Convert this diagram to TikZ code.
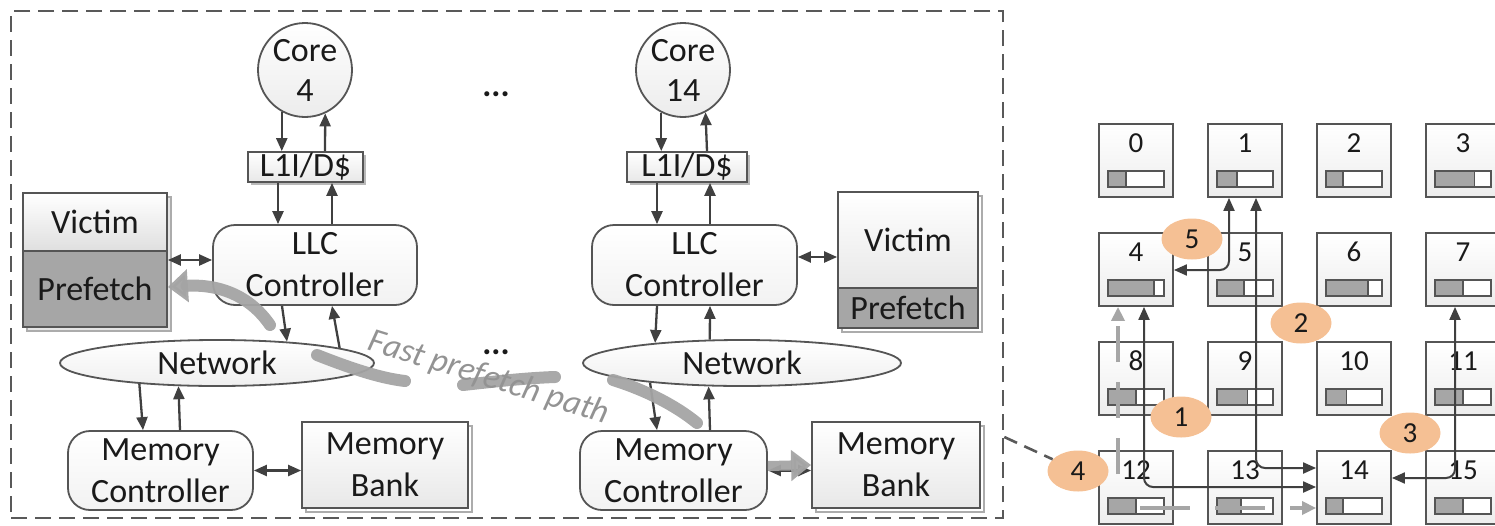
\documentclass[tikz,border=0pt]{standalone}
\usepackage{fontspec}
\setmainfont{Carlito}
\usetikzlibrary{arrows.meta,shapes.geometric}
\definecolor{ln}{HTML}{404040}
\definecolor{bd}{HTML}{555555}
\definecolor{pf}{HTML}{A6A6A6}
\definecolor{fastc}{HTML}{A4A4A4}
\definecolor{tagc}{RGB}{245,192,148}
\definecolor{txt}{HTML}{1A1A1A}

\begin{document}
\begin{tikzpicture}[x=1pt,y=-1pt,
  every node/.style={inner sep=0pt, font=\fontsize{34}{42}\selectfont, text=txt},
  box/.style={draw=bd, line width=1.8pt, top color=white, bottom color=gray!18, align=center},
  rbox/.style={box, rounded corners=22pt, top color=white, bottom color=gray!10},
  core/.style={circle, draw=bd, line width=1.8pt, top color=white, bottom color=gray!15,
    minimum size=94pt, align=center, font=\fontsize{34}{40}\selectfont},
  net/.style={ellipse, draw=bd, line width=1.8pt, top color=white, bottom color=gray!12},
  back/.style={draw=gray!65, line width=1.4pt, fill=gray!20},
  arr/.style={draw=ln, line width=2.3pt, -{Triangle[length=13pt,width=11pt]}},
  darr/.style={draw=ln, line width=2.3pt, {Triangle[length=13pt,width=11pt]}-{Triangle[length=13pt,width=11pt]}},
  fast/.style={draw=fastc, line width=12pt, line cap=round, opacity=0.95},
  fasttip/.style={-{Triangle[length=20pt,width=32pt]}},
  frame/.style={draw=gray!70!black, line width=2.6pt, dash pattern=on 16pt off 8pt},
  tile/.style={draw=bd, line width=1.8pt, top color=white, bottom color=gray!14,
    minimum width=74pt, minimum height=73pt},
  num/.style={font=\fontsize{29}{32}\selectfont},
  tag/.style={ellipse, fill=tagc, minimum width=61pt, minimum height=41pt,
    font=\fontsize{29}{32}\selectfont},
  garr/.style={draw=ln, line width=2pt, rounded corners=9pt,
    {Triangle[length=13pt,width=11pt]}-{Triangle[length=13pt,width=11pt]}},
  gpath/.style={draw=pf, line width=4.5pt, dash pattern=on 36pt off 20pt,
    -{Triangle[length=14pt,width=13pt]}}
]
\useasboundingbox (0,0) rectangle (1495,525);

% ---------- outer frame around one chip slice ----------
\node[frame, minimum width=992pt, minimum height=507pt] (frame) at (507,264.5) {};

% ---------- left column (core 4) ----------
\node[core] (core4) at (305,70) {Core\\4};
\fill[gray!55] (251,155) rectangle (366,185);
\node[box, minimum width=115pt, minimum height=30pt] (l1L) at (305.5,167) {L1I/D\$};
\node[rbox, minimum width=204pt, minimum height=80pt] (llcL) at (315,265) {LLC\\Controller};
\draw[back] (27,197) rectangle (171,331);
\node[box, minimum width=144pt, minimum height=58pt, bottom color=gray!25] (victimL) at (95,222) {Victim};
\node[draw=bd, line width=1.8pt, fill=pf, minimum width=144pt, minimum height=76pt] (prefL) at (95,289) {Prefetch};
\node[net, minimum width=314pt, minimum height=46pt] (netL) at (217,363) {Network};
\node[rbox, minimum width=185pt, minimum height=79pt] (mcL) at (160.5,470.5) {Memory\\Controller};
\draw[back, fill=white] (306,426) rectangle (472,512);
\node[box, minimum width=166pt, minimum height=86pt] (mbL) at (385,465) {Memory\\Bank};

% ---------- right column (core 14) ----------
\node[core] (core14) at (683,70) {Core\\14};
\fill[gray!55] (630,155) rectangle (750,185);
\node[box, minimum width=120pt, minimum height=30pt] (l1R) at (687,167) {L1I/D\$};
\node[rbox, minimum width=205pt, minimum height=80pt] (llcR) at (694.5,265) {LLC\\Controller};
\draw[back, fill=white] (842,196) rectangle (982,332);
\node[box, minimum width=140pt, minimum height=96pt] (victimR) at (908,240) {Victim};
\node[draw=bd, line width=1.8pt, fill=pf, minimum width=140pt, minimum height=40pt] (prefR) at (908,308) {Prefetch};
\node[net, minimum width=318pt, minimum height=46pt] (netR) at (742,363) {Network};
\node[rbox, minimum width=187pt, minimum height=79pt] (mcR) at (673.5,470.5) {Memory\\Controller};
\draw[back, fill=white] (816,426) rectangle (984,512);
\node[box, minimum width=168pt, minimum height=86pt] (mbR) at (896,465) {Memory\\Bank};

% ---------- ellipsis marks ----------
\node[anchor=base, font=\bfseries\fontsize{34}{40}\selectfont] (dotsTop) at (496,96) {...};
\node[anchor=base, font=\bfseries\fontsize{34}{40}\selectfont] (dotsMid) at (496,354) {...};

% ---------- connectors, core 4 ----------
\draw[arr] (core4.-119) -- (core4.-119 |- l1L.north);
\draw[arr] (325,0 |- l1L.north) -- (core4.-65);
\draw[arr] (278,0 |- l1L.south) -- (278,0 |- llcL.north);
\draw[arr] (332,0 |- llcL.north) -- (332,0 |- l1L.south);
\draw[arr] (282,0 |- llcL.south) -- (netL.17.8);
\draw[arr] (netL.7.8) -- (332,0 |- llcL.south);
\draw[arr] (netL.195.3) -- (143,0 |- mcL.north);
\draw[arr] (180,0 |- mcL.north) -- (netL.211.2);
\draw[darr] (prefL.east |- 0,260) -- (llcL.west |- 0,260);
\draw[darr] (mcL.east) -- (mbL.west |- mcL.east);

% ---------- connectors, core 14 ----------
\draw[arr] (core14.-117) -- (core14.-117 |- l1R.north);
\draw[arr] (707,0 |- l1R.north) -- (core14.-62);
\draw[arr] (657,0 |- l1R.south) -- (657,0 |- llcR.north);
\draw[arr] (710,0 |- llcR.north) -- (710,0 |- l1R.south);
\draw[arr] (657,0 |- llcR.south) -- (netR.167.1);
\draw[arr] (netR.144.9) -- (710,0 |- llcR.south);
\draw[arr] (netR.192.9) -- (657,0 |- mcR.north);
\draw[arr] (710,0 |- mcR.north) -- (netR.215.1);
\draw[darr] (llcR.east |- 0,257) -- (victimR.west |- 0,257);
\draw[darr] (mcR.east) -- (mbR.west |- mcR.east);

% ---------- fast prefetch path ----------
\draw[fast, fasttip] (270,325) .. controls (248,293) and (215,284) .. (prefL.east |- 0,287);
\draw[fast] (317,355) .. controls (345,366) and (378,378) .. (405,381);
\draw[fast] (463,385) .. controls (490,382) and (525,378) .. (555,377);
\draw[fast] (613,380) .. controls (645,390) and (675,405) .. (697,423);
\draw[fast, line width=10pt, line cap=butt, -{Triangle[length=20pt,width=30pt]}] (mcR.east |- 0,466) -- (mbR.west |- 0,465);
\node[rotate=-17.3, font=\itshape\fontsize{34}{40}\selectfont, text=gray!85] (fastlbl) at (489,378) {Fast prefetch path};

% ---------- 4x4 tile grid ----------
\foreach \f [count=\i from 0] in {0.32,0.36,0.30,0.71,0.82,0.48,0.75,0.5,0.5,0.54,0.37,0.5,0.5,0.43,0.3,0.5} {
  \pgfmathtruncatemacro\c{mod(\i,4)}
  \pgfmathtruncatemacro\r{div(\i,4)}
  \pgfmathsetmacro\xx{1099+109*\c}
  \pgfmathsetmacro\yy{124+109*\r}
  \node[tile] (t\i) at (\xx+37,\yy+36.5) {};
  \node[num] (n\i) at (\xx+37,\yy+19) {\i};
  \node[draw=bd, line width=1.4pt, fill=white, minimum width=56pt, minimum height=16pt] (b\i) at (\xx+37,\yy+55) {};
  \draw[draw=bd, line width=1.4pt, fill=pf] (\xx+9,\yy+47) rectangle (\xx+9+56*\f,\yy+63);
}

% ---------- routes between tiles ----------
\draw[gpath] (1118,474) -- (1118,0 |- t4.south);
\draw[gpath, dash pattern=on 50pt off 25pt] (1140,508) -- (t14.west |- 0,508);
\draw[garr] (1144,0 |- t4.south) -- (1144,487) -- (t14.west |- 0,487);
\draw[garr] (1256,0 |- t1.south) -- (1256,468) -- (t14.west |- 0,468);
\draw[garr] (1229,0 |- t1.south) -- (1229,270) -- (t4.east |- 0,270);
\draw[garr] (1455,0 |- t7.south) -- (1455,478) -- (t14.east |- 0,478);

% ---------- step tags ----------
\node[tag] (e5) at (1192,239) {5};
\node[tag] (e2) at (1301,323) {2};
\node[tag] (e1) at (1181,417) {1};
\node[tag] (e3) at (1410,433) {3};
\node[tag] (e4) at (1078,471) {4};
\draw[frame, dash pattern=on 14pt off 8pt] (frame.east |- 0,437) -- (e4);
\end{tikzpicture}
\end{document}
